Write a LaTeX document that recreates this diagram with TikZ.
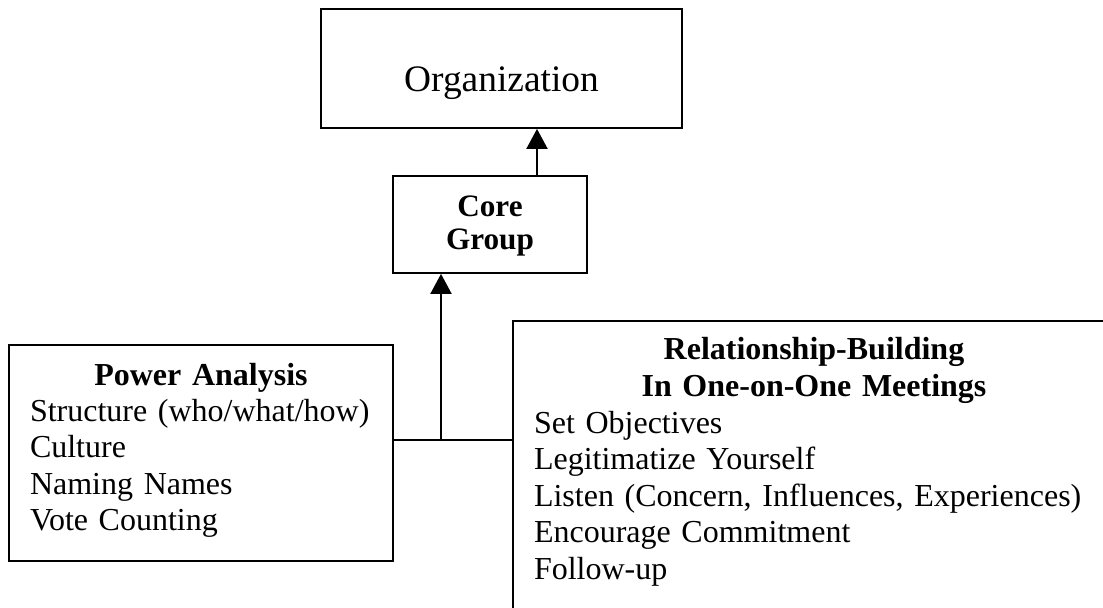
\documentclass[tikz,border=0pt]{standalone}
\usepackage{fontspec}
\setmainfont{Liberation Serif}
\usetikzlibrary{arrows.meta,positioning}

\tikzset{
  box/.style={draw=black, line width=0.9pt, inner sep=0pt,
    font=\fontsize{16}{18.1}\selectfont},
  link/.style={draw=black, line width=1pt},
  uparrow/.style={link, -{Triangle[length=10pt,width=10.5pt]}}
}

\begin{document}
\begin{tikzpicture}[x=0.5pt,y=-0.5pt]
\useasboundingbox (0,0) rectangle (1103,608);

% Top box
\node[
box,
minimum width=180.5pt,
minimum height=59.5pt,
font=\fontsize{18.7}{22}\selectfont,
text height=23.5pt,
text depth=0pt
] (org) at (501.5,68.5) {Organization};

% Core group
\node[
box,
minimum width=97pt,
minimum height=48.5pt,
text width=80pt,
align=center,
text height=20.5pt,
text depth=28pt,
font=\fontsize{15.6}{16.5}\selectfont\bfseries
] (core) at (490,224.5) {Core\\Group};

% Left box
\node[
box,
minimum width=192pt,
minimum height=108pt,
text width=171pt,
align=left,
text height=20pt,
text depth=87.5pt
] (power) at (201,453)
{\makebox[171pt]{\bfseries Power Analysis}\\
Structure (who/what/how)\\
Culture\\
Naming Names\\
Vote Counting};

% Right box (runs off the page)
\node[
box,
minimum width=301pt,
minimum height=143.75pt,
text width=280pt,
align=left,
text height=19.5pt,
text depth=124.25pt,
font=\fontsize{16}{18.3}\selectfont
] (meetings) at (814,464.75)
{\makebox[280pt]{\bfseries Relationship-Building}\\
\makebox[280pt]{\bfseries In One-on-One Meetings}\\
Set Objectives\\
Legitimatize Yourself\\
Listen (Concern, Influences, Experiences)\\
Encourage Commitment\\
Follow-up};

% Connectors
\coordinate (split) at (441,440.5);
\coordinate (feed) at (537,224.5);
\draw[link] (power.east |- split) -- (meetings.west |- split);
\draw[uparrow] (split) -- (split |- core.south);
\draw[uparrow] (feed |- core.north) -- (feed |- org.south);

\end{tikzpicture}
\end{document}
